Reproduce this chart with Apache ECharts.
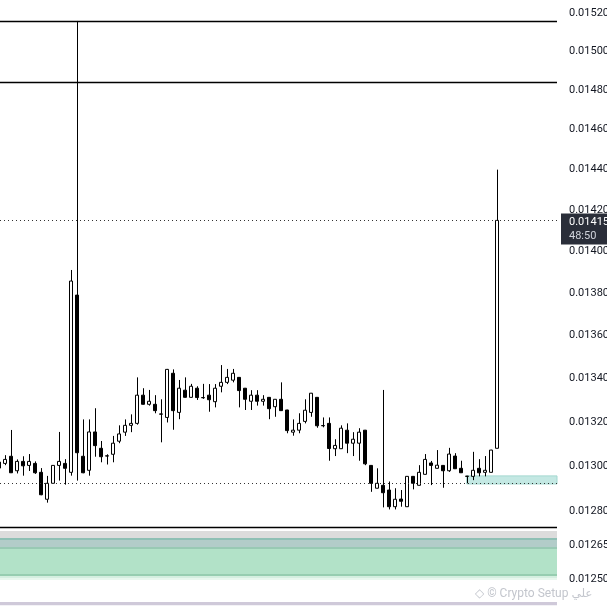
<!DOCTYPE html>
<html><head><meta charset="utf-8">
<script src="https://cdn.jsdelivr.net/npm/echarts@6/dist/echarts.min.js"></script>
<style>html,body{margin:0;padding:0;background:#fff;overflow:hidden}#c{width:607px;height:607px}</style>
</head><body><div id="c"></div>
<script>
// candle values (price), one entry per bar, left to right
const opens = [
0.012991,0.013012,0.013044,0.012979,0.013021,0.013003,0.013012,0.012972,0.012852,0.012923,0.013003,0.013012,
0.012972,0.013790,0.013044,0.012981,0.013154,0.013080,0.013046,0.013053,0.013112,0.013153,0.013184,0.013193,
0.013322,0.013280,0.013280,0.013236,0.013220,0.013423,0.013243,0.013345,0.013312,0.013354,0.013311,0.013322,
0.013292,0.013363,0.013381,0.013391,0.013404,0.013354,0.013294,0.013322,0.013294,0.013312,0.013269,0.013303,
0.013254,0.013153,0.013162,0.013202,0.013243,0.013312,0.013183,0.013193,0.013078,0.013078,0.013162,0.013103,
0.013103,0.013162,0.013003,0.012901,0.012914,0.012893,0.012819,0.012853,0.012819,0.012954,0.012914,0.012963,
0.013014,0.012990,0.013003,0.012979,0.013045,0.012990,0.012955,0.012954,0.012990,0.012972,0.012972,0.013080];
const closes = [
0.013018,0.013030,0.012970,0.013021,0.013001,0.013021,0.012970,0.012872,0.012923,0.013003,0.013021,0.012990,
0.013857,0.013060,0.012970,0.013154,0.013092,0.013042,0.013045,0.013103,0.013145,0.013184,0.013193,0.013322,
0.013280,0.013294,0.013251,0.013235,0.013441,0.013251,0.013354,0.013312,0.013363,0.013311,0.013310,0.013301,
0.013354,0.013381,0.013404,0.013423,0.013343,0.013303,0.013322,0.013294,0.013303,0.013260,0.013303,0.013251,
0.013160,0.013162,0.013193,0.013253,0.013331,0.013182,0.013182,0.013079,0.013093,0.013171,0.013103,0.013121,
0.013153,0.013010,0.012923,0.012923,0.012881,0.012819,0.012852,0.012843,0.012954,0.012923,0.012972,0.013030,
0.013003,0.013004,0.012979,0.013054,0.012988,0.012970,0.012954,0.012981,0.012970,0.012981,0.013072,0.014150];
const lows = [
0.012987,0.013004,0.012969,0.012967,0.012957,0.012978,0.012965,0.012870,0.012837,0.012923,0.012935,0.012917,
0.012957,0.012935,0.012968,0.012957,0.013042,0.013017,0.013007,0.013017,0.013103,0.013136,0.013153,0.013187,
0.013279,0.013274,0.013239,0.013107,0.013197,0.013164,0.013212,0.013311,0.013311,0.013300,0.013305,0.013246,
0.013266,0.013335,0.013373,0.013381,0.013266,0.013254,0.013254,0.013274,0.013274,0.013212,0.013223,0.013250,
0.013148,0.013137,0.013148,0.013193,0.013223,0.013173,0.013175,0.013024,0.013045,0.013077,0.013058,0.013045,
0.013024,0.013004,0.012885,0.012900,0.012816,0.012807,0.012807,0.012819,0.012818,0.012896,0.012913,0.012962,
0.012915,0.012989,0.012903,0.012974,0.012987,0.012969,0.012923,0.012937,0.012954,0.012954,0.012971,0.013079];
const highs = [
0.013027,0.013049,0.013163,0.013030,0.013044,0.013054,0.013021,0.012991,0.012956,0.013003,0.013154,0.013031,
0.013910,0.015158,0.013211,0.013211,0.013262,0.013113,0.013053,0.013136,0.013184,0.013211,0.013234,0.013404,
0.013354,0.013346,0.013322,0.013303,0.013443,0.013441,0.013392,0.013404,0.013374,0.013363,0.013374,0.013373,
0.013373,0.013461,0.013443,0.013443,0.013405,0.013355,0.013345,0.013345,0.013322,0.013313,0.013304,0.013381,
0.013255,0.013211,0.013239,0.013303,0.013332,0.013313,0.013220,0.013220,0.013121,0.013184,0.013193,0.013153,
0.013171,0.013163,0.013004,0.012990,0.013346,0.012931,0.012901,0.012893,0.012955,0.012955,0.013004,0.013054,
0.013023,0.013072,0.013004,0.013082,0.013058,0.013024,0.012955,0.013064,0.013031,0.013045,0.013073,0.014400];

const priceTicks = [0.0152,0.0150,0.0148,0.0146,0.0144,0.0142,0.0140,0.0138,0.0136,0.0134,0.0132,0.0130,0.0128,0.01265,0.0125];
const lastPrice = 0.01415;
const countdown = '48:50';
const solidLevels = [0.015158, 0.014842, 0.012729];
const dottedLevels = [0.012922, lastPrice];
const zoneStartIndex = 77.9;
const zoneRange = [0.012956, 0.012920];
const bandTops    = [0.012712, 0.012681, 0.012673, 0.012642, 0.012633, 0.012525, 0.012516, 0.012507, 0.012404];
const bandBottoms = [0.012681, 0.012673, 0.012642, 0.012633, 0.012525, 0.012516, 0.012507, 0.012499, 0.012391];
const bandColors  = ['#dcdcdc','#8fc0b5','#b2ccc9','#98c9b4','#b2e2c8','#96cdb0','#d4efe0','#e8f7ee','#cfc9d9'];
const yMin = 0.012383, yMax = 0.015268;
const xMin = 0.1167, xMax = 92.95;

const candleData = opens.map((o, i) => [i, o, closes[i], lows[i], highs[i]]);

const markAreaData = bandTops.map((t, i) => [
  {xAxis: xMin, yAxis: t, itemStyle: {color: bandColors[i]}}, {xAxis: xMax, yAxis: bandBottoms[i]}
]);
markAreaData.push([
  {xAxis: zoneStartIndex, yAxis: zoneRange[0], itemStyle: {color: '#c4e8e3', borderColor: '#a3d8d0', borderWidth: 1}},
  {xAxis: xMax, yAxis: zoneRange[1]}
]);

const markLineData = [];
solidLevels.forEach(v => markLineData.push([
  {coord: [xMin, v], lineStyle: {color: '#000', width: 1.4, type: 'solid'}}, {coord: [xMax, v]}
]));
dottedLevels.forEach(v => markLineData.push([
  {coord: [xMin, v], lineStyle: {color: '#333', width: 1, type: [1, 3]}}, {coord: [xMax, v]}
]));

const chart = echarts.init(document.getElementById('c'));
chart.setOption({
  animation: false,
  backgroundColor: '#ffffff',
  title: {
    text: '◇ © Crypto Setup علي',
    left: 470, top: 583,
    textStyle: {fontSize: 12, color: '#c3c6cd', fontWeight: 'normal', fontFamily: 'Roboto, "DejaVu Sans"'}
  },
  grid: {left: 0, right: 50, top: 0, bottom: 0, outerBoundsMode: 'none', containLabel: false},
  xAxis: {type: 'value', min: xMin, max: xMax, show: false},
  yAxis: {
    type: 'log', position: 'right', min: yMin, max: yMax,
    axisLine: {show: false}, axisTick: {show: false}, splitLine: {show: false},
    axisLabel: {
      customValues: priceTicks,
      formatter: v => Number(v).toFixed(5),
      color: '#131722', fontSize: 11, fontFamily: 'Roboto', margin: 12, hideOverlap: false
    }
  },
  series: [{
    type: 'candlestick',
    data: candleData,
    encode: {x: 0, y: [1, 2, 3, 4]},
    barWidth: 3.5,
    clip: false,
    itemStyle: {color: '#ffffff', color0: '#000000', borderColor: '#000000', borderColor0: '#000000', borderColorDoji: '#000000', borderWidth: 1},
    markLine: {silent: true, symbol: 'none', label: {show: false}, data: markLineData},
    markArea: {silent: true, data: markAreaData},
    markPoint: {
      silent: true,
      symbol: 'rect', symbolSize: [50, 31], symbolOffset: [29, 8.5],
      itemStyle: {color: '#2a2e39'},
      label: {
        show: true, position: [8, 2], align: 'left', verticalAlign: 'top',
        formatter: '{a|' + lastPrice.toFixed(5) + '}\n{b|' + countdown + '}',
        rich: {
          a: {color: '#ffffff', fontSize: 11, fontFamily: 'Roboto', lineHeight: 14},
          b: {color: '#d1d4dc', fontSize: 11, fontFamily: 'Roboto', lineHeight: 14}
        }
      },
      data: [{coord: [xMax, lastPrice]}]
    }
  }]
});
</script></body></html>
